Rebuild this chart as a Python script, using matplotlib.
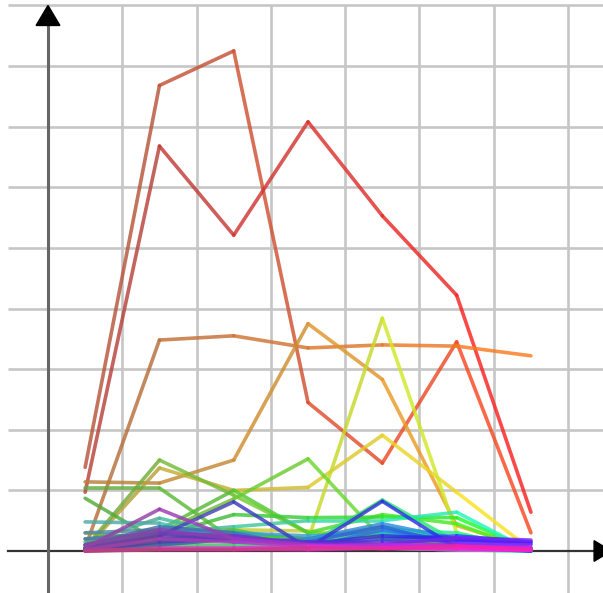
import colorsys

import matplotlib
matplotlib.use("Agg")
import matplotlib.pyplot as plt
import numpy as np
from matplotlib.collections import LineCollection
from matplotlib.patches import Polygon

# sample positions, one value per half-cell
x_pos = [0.5, 1.5, 2.5, 3.5, 4.5, 5.5, 6.5]

# hue of each series (0 = red ... 0.9 = pink) and its values
hues = [
    0.03, 0.0, 0.07, 0.10, 0.12, 0.15, 0.19, 0.18, 0.22,
    0.27, 0.30, 0.33, 0.31, 0.28, 0.34, 0.36, 0.40, 0.43,
    0.45, 0.47, 0.50, 0.55, 0.58, 0.60, 0.62, 0.64, 0.66,
    0.67, 0.70, 0.73, 0.76, 0.78, 0.80, 0.83, 0.86, 0.90,
]
series = [
    [1.38, 7.68, 8.25, 2.45, 1.45, 3.45, 0.30],
    [0.97, 6.68, 5.21, 7.08, 5.53, 4.22, 0.64],
    [0.05, 3.48, 3.55, 3.35, 3.40, 3.38, 3.22],
    [1.14, 1.12, 1.50, 3.75, 2.83, 0.42, 0.04],
    [0.02, 0.15, 0.25, 0.20, 0.10, 0.15, 0.02],
    [0.03, 1.37, 1.00, 1.05, 1.91, 0.97, 0.02],
    [0.05, 0.10, 0.20, 0.18, 3.84, 0.30, 0.02],
    [0.10, 0.30, 0.35, 0.33, 0.20, 0.05, 0.00],
    [0.30, 0.20, 0.25, 0.20, 0.30, 0.10, 0.02],
    [0.05, 1.50, 0.92, 0.30, 0.25, 0.10, 0.00],
    [1.04, 1.04, 0.18, 0.10, 0.05, 0.02, 0.00],
    [0.87, 0.15, 0.35, 0.10, 0.30, 0.20, 0.00],
    [0.05, 0.35, 1.00, 0.30, 0.60, 0.45, 0.00],
    [0.10, 0.30, 0.86, 1.52, 0.20, 0.10, 0.00],
    [0.05, 0.25, 0.60, 0.55, 0.56, 0.55, 0.02],
    [0.20, 0.10, 0.30, 0.20, 0.40, 0.20, 0.05],
    [0.02, 0.10, 0.10, 0.10, 0.84, 0.15, 0.00],
    [0.05, 0.30, 0.20, 0.15, 0.35, 0.30, 0.02],
    [0.10, 0.30, 0.40, 0.50, 0.50, 0.64, 0.00],
    [0.15, 0.54, 0.25, 0.10, 0.05, 0.05, 0.00],
    [0.48, 0.46, 0.15, 0.10, 0.05, 0.02, 0.00],
    [0.30, 0.35, 0.30, 0.25, 0.30, 0.20, 0.02],
    [0.20, 0.30, 0.15, 0.20, 0.45, 0.20, 0.05],
    [0.10, 0.40, 0.30, 0.05, 0.35, 0.15, 0.05],
    [0.02, 0.10, 0.20, 0.15, 0.40, 0.10, 0.00],
    [0.05, 0.20, 0.25, 0.10, 0.20, 0.25, 0.15],
    [0.05, 0.25, 0.81, 0.05, 0.82, 0.05, 0.00],
    [0.00, 0.15, 0.20, 0.12, 0.25, 0.20, 0.12],
    [0.02, 0.25, 0.20, 0.15, 0.15, 0.18, 0.15],
    [0.05, 0.30, 0.25, 0.12, 0.10, 0.22, 0.18],
    [0.10, 0.35, 0.20, 0.10, 0.08, 0.12, 0.10],
    [0.05, 0.69, 0.20, 0.10, 0.05, 0.05, 0.02],
    [0.02, 0.20, 0.15, 0.08, 0.10, 0.08, 0.05],
    [0.00, 0.05, 0.05, 0.08, 0.04, 0.05, 0.02],
    [0.00, 0.02, 0.03, 0.02, 0.05, 0.02, 0.01],
    [0.00, 0.03, 0.02, 0.05, 0.04, 0.08, 0.03],
]

GRID_X = range(1, 8)
GRID_Y = range(1, 10)
X_MIN, X_MAX = -0.646, 7.47
Y_MIN, Y_MAX = -0.693, 9.09

DULL = np.array([0.46, 0.38, 0.33])


def seg_color(hue, xm):
    # colours are muted on the left and get fully saturated towards the right
    base = np.array(colorsys.hsv_to_rgb(hue, 0.88, 1.0))
    k = 0.58 * (1 - (xm - x_pos[0]) / (x_pos[-1] - x_pos[0]))
    return tuple(base * (1 - k) + DULL * k) + (0.82,)


fig = plt.figure(figsize=(6.03, 5.93), dpi=100)
ax = fig.add_axes([0, 0, 1, 1])
ax.set_xlim(X_MIN, X_MAX)
ax.set_ylim(Y_MIN, Y_MAX)
ax.axis("off")

ax.hlines(list(GRID_Y), -0.54, X_MAX, color="#c6c6c6", lw=1.9, zorder=1)
ax.vlines(list(GRID_X), Y_MIN, 9.0, color="#c6c6c6", lw=1.9, zorder=1)

# axes with arrow heads
ax.plot([-0.54, X_MAX], [0, 0], color="#333333", lw=1.6, zorder=2)
ax.plot([0, 0], [Y_MIN, 8.8], color="#666666", lw=2.2, zorder=2)
ax.add_patch(Polygon([[0, 9.0], [-0.16, 8.67], [0.16, 8.67]],
                     closed=True, color="black", zorder=5))
ax.add_patch(Polygon([[7.58, 0], [7.35, 0.17], [7.35, -0.17]],
                     closed=True, color="black", zorder=5, clip_on=False))

xs = np.array(x_pos)
for hue, vals in zip(hues, series):
    pts = np.column_stack([xs, vals])
    segs = np.stack([pts[:-1], pts[1:]], axis=1)
    mids = (xs[:-1] + xs[1:]) / 2
    cols = [seg_color(hue, m) for m in mids]
    lc = LineCollection(segs, colors=cols, linewidths=2.6,
                        capstyle="round", joinstyle="round", zorder=3)
    ax.add_collection(lc)

fig.savefig("out.png", dpi=100)
